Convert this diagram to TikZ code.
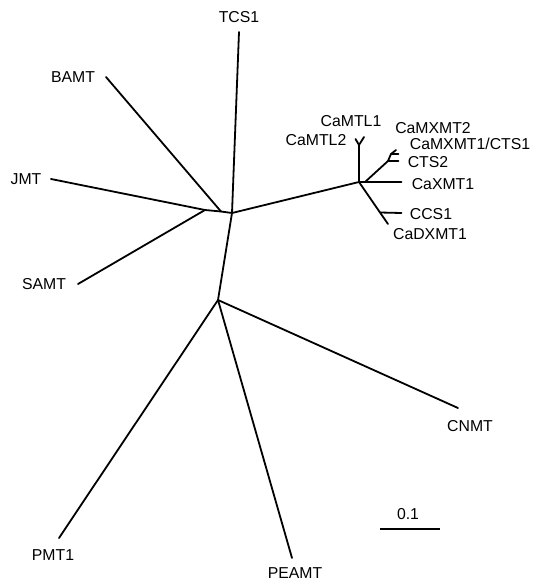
\documentclass[tikz,border=0pt]{standalone}
\usepackage{fontspec}
\setmainfont{Liberation Sans}
\begin{document}
\begin{tikzpicture}[x=1pt,y=-1pt]
        \tikzstyle{branch}=[line width=1.8pt, line cap=round]
        \tikzstyle{taxon}=[inner sep=0pt, font=\fontsize{15.8}{18}\selectfont]

        \useasboundingbox (0,0) rectangle (534,583);

        % inner nodes
        \coordinate (c) at (232,213);
        \coordinate (a) at (205,210);
        \coordinate (b) at (221,211.5);
        \coordinate (d) at (218,300);
        \coordinate (e) at (359,182);
        \coordinate (f) at (359,145);
        \coordinate (g) at (365,182);
        \coordinate (h) at (388,161);
        \coordinate (i) at (391,154);
        \coordinate (j) at (380,212.5);

        % tips
        \coordinate (tcs) at (239,32);
        \coordinate (bamt) at (106,77);
        \coordinate (jmt) at (51,179);
        \coordinate (samt) at (78,284);
        \coordinate (pmt) at (59,538);
        \coordinate (peamt) at (292,558);
        \coordinate (cnmt) at (458,408);
        \coordinate (mtl2) at (355.5,139);
        \coordinate (mtl1) at (364,137);
        \coordinate (mx2) at (396,150);
        \coordinate (mx1) at (398.5,154);
        \coordinate (cts2) at (398.5,161);
        \coordinate (xmt) at (401.5,182);
        \coordinate (ccs) at (401.5,213);
        \coordinate (dxmt) at (388,224);

        \draw[branch] (a) -- (b) -- (c);
        \draw[branch] (jmt) -- (a);
        \draw[branch] (samt) -- (a);
        \draw[branch] (bamt) -- (b);
        \draw[branch] (tcs) -- (c);
        \draw[branch] (c) -- (d);
        \draw[branch] (d) -- (pmt);
        \draw[branch] (d) -- (peamt);
        \draw[branch] (d) -- (cnmt);
        \draw[branch] (c) -- (e);
        \draw[branch] (e) -- (f);
        \draw[branch] (f) -- (mtl2);
        \draw[branch] (f) -- (mtl1);
        \draw[branch] (e) -- (g) -- (xmt);
        \draw[branch] (g) -- (h) -- (i);
        \draw[branch] (h) -- (cts2);
        \draw[branch] (i) -- (mx2);
        \draw[branch] (i) -- (mx1);
        \draw[branch] (e) -- (j) -- (dxmt);
        \draw[branch] (j) -- (ccs);

        \node[taxon] (ltcs) at (239,17) {TCS1};
        \node[taxon] (lbamt) at (73,77) {BAMT};
        \node[taxon] (ljmt) at (26,179) {JMT};
        \node[taxon] (lsamt) at (44,284) {SAMT};
        \node[taxon] (lpmt) at (53,555) {PMT1};
        \node[taxon] (lpeamt) at (295,573) {PEAMT};
        \node[taxon] (lcnmt) at (470,426) {CNMT};
        \node[taxon] (lmtl1) at (351,121) {CaMTL1};
        \node[taxon] (lmtl2) at (316,140) {CaMTL2};
        \node[taxon] (lmx2) at (433,128.5) {CaMXMT2};
        \node[taxon] (lmx1) at (470,143.5) {CaMXMT1/CTS1};
        \node[taxon] (lcts2) at (428,162.5) {CTS2};
        \node[taxon] (lxmt) at (443,184) {CaXMT1};
        \node[taxon] (lccs) at (431,214) {CCS1};
        \node[taxon] (ldxmt) at (430,234.5) {CaDXMT1};

        % scale bar
        \coordinate (s1) at (380,529);
        \coordinate (s2) at (440,529);
        \draw[branch, line cap=butt] (s1) -- (s2);
        \node[taxon] (lscale) at (408,514) {0.1};
    \end{tikzpicture}
\end{document}
